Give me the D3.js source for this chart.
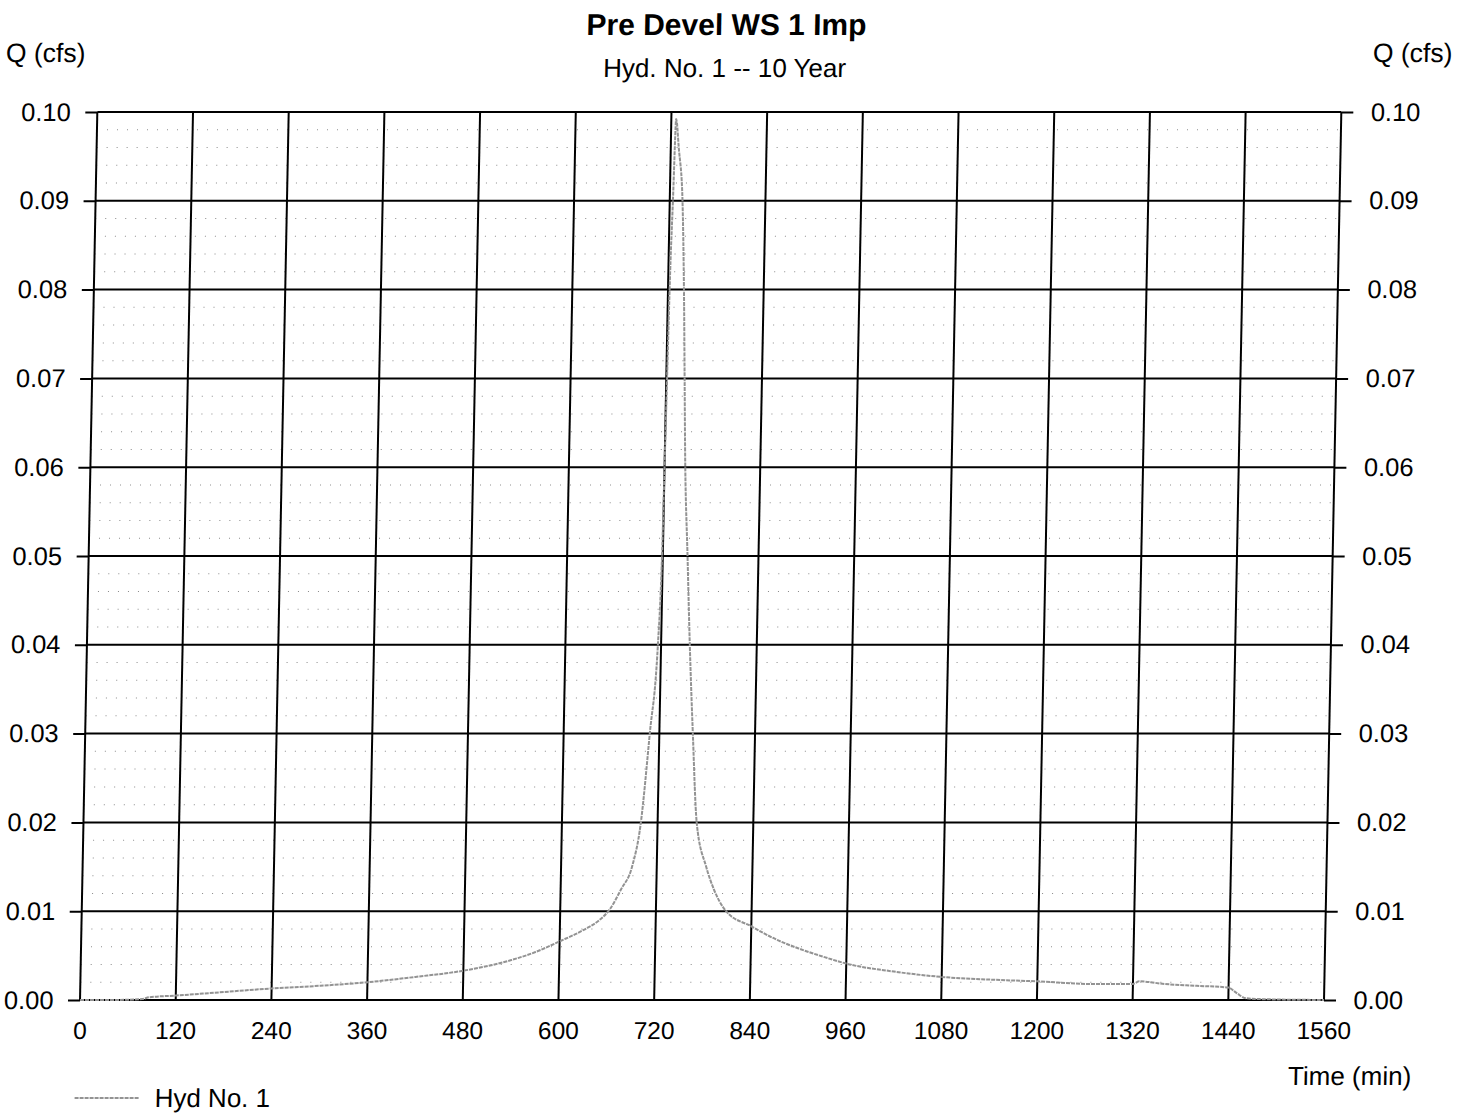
<!DOCTYPE html>
<html>
<head>
<meta charset="utf-8">
<script src="https://cdn.jsdelivr.net/npm/d3@7"></script>
<style>
  html, body { margin: 0; padding: 0; background: #fff; }
  svg { display: block; }
  text { font-family: "Liberation Sans", Arial, sans-serif; fill: #000; }
</style>
</head>
<body>
<svg id="chart" width="1468" height="1113"></svg>
<script>
// ---- data ----
const timeMin = [0, 40, 78, 86, 120, 180, 240, 300, 360, 420, 480, 540, 570, 600, 630, 648, 662, 676, 689, 699,
  708, 716, 719, 720, 721, 722, 724, 726, 730, 736, 740, 743, 746, 751, 756, 762, 769, 782, 792, 808,
  840, 872, 900, 930, 960, 1020, 1080, 1140, 1200, 1270, 1320, 1328, 1360, 1400, 1440, 1450, 1462, 1480, 1560];
const flowCfs = [0.0000, 0.0000, 0.0001, 0.0003, 0.0005, 0.0009, 0.0013, 0.0016, 0.0020, 0.0026, 0.0033, 0.0045, 0.0054, 0.0066, 0.0079, 0.0089, 0.0102, 0.0125, 0.0150, 0.0200,
  0.0300, 0.0400, 0.0500, 0.0600, 0.0700, 0.0800, 0.0900, 0.0992, 0.0960, 0.0900, 0.0800, 0.0700, 0.0600, 0.0500, 0.0400, 0.0300, 0.0200, 0.0150, 0.0125, 0.0100,
  0.0083, 0.0068, 0.0058, 0.0049, 0.0041, 0.0032, 0.0026, 0.0023, 0.0021, 0.0018, 0.0018, 0.0021, 0.0018, 0.0016, 0.0014, 0.0008, 0.0002, 0.0001, 0.0000];
const xTickValues = [0, 120, 240, 360, 480, 600, 720, 840, 960, 1080, 1200, 1320, 1440, 1560];
const yTickValues = [0.00, 0.01, 0.02, 0.03, 0.04, 0.05, 0.06, 0.07, 0.08, 0.09, 0.10];
const titleText = "Pre Devel WS 1 Imp";
const subtitleText = "Hyd. No. 1 -- 10 Year";
const yAxisLabel = "Q (cfs)";
const xAxisLabel = "Time (min)";
const seriesName = "Hyd No. 1";

// ---- layout ----
const svg = d3.select("#chart");
const g = svg.append("g").attr("transform", "skewX(-1.117)");
const x = d3.scaleLinear().domain([0, 1560]).range([99.5, 1343.5]);
const y = d3.scaleLinear().domain([0, 0.1]).range([1000, 112]);
const lineColor = "#939393";

// minor horizontal dotted grid
const minor = d3.range(0, 0.1, 0.002).filter(v => Math.abs(Math.round(v * 100) - v * 100) > 1e-6);
g.append("g").selectAll("line").data(minor).join("line")
  .attr("x1", x(0)).attr("x2", x(1560))
  .attr("y1", d => y(d)).attr("y2", d => y(d))
  .attr("stroke", "#8a8a8a").attr("stroke-width", 1).attr("stroke-dasharray", "1,9");

// major vertical grid
g.append("g").selectAll("line").data(xTickValues).join("line")
  .attr("x1", d => x(d)).attr("x2", d => x(d))
  .attr("y1", y(0.1)).attr("y2", y(0))
  .attr("stroke", "#000").attr("stroke-width", 2);

// major horizontal grid
g.append("g").selectAll("line").data(yTickValues).join("line")
  .attr("x1", x(0)).attr("x2", x(1560))
  .attr("y1", d => y(d)).attr("y2", d => y(d))
  .attr("stroke", "#000").attr("stroke-width", 2);

// axes
const fmt = d3.format(".2f");
function styleAxis(size) {
  return sel => {
    sel.select(".domain").remove();
    sel.selectAll("line").attr("stroke", "#000").attr("stroke-width", 2);
    sel.selectAll("text").attr("font-size", size).attr("font-family", "Liberation Sans, Arial, sans-serif").attr("fill", "#000");
    sel.attr("font-family", null).attr("font-size", null);
  };
}
g.append("g").attr("transform", `translate(${x(0)},0)`)
  .call(d3.axisLeft(y).tickValues(yTickValues).tickFormat(fmt).tickSize(12).tickPadding(14.5))
  .call(styleAxis(25.5));
g.append("g").attr("transform", `translate(${x(1560)},0)`)
  .call(d3.axisRight(y).tickValues(yTickValues).tickFormat(fmt).tickSize(12).tickPadding(17.5))
  .call(styleAxis(25.5));
g.append("g").attr("transform", `translate(0,${y(0)})`)
  .call(d3.axisBottom(x).tickValues(xTickValues).tickFormat(d3.format("d")).tickSize(0).tickPadding(22))
  .call(styleAxis(24.5));

// series
const pts = timeMin.map((t, i) => [t, flowCfs[i]]);
g.append("path").datum(pts)
  .attr("fill", "none").attr("stroke", lineColor).attr("stroke-width", 2)
  .attr("stroke-dasharray", "4,1")
  .attr("d", d3.line().x(d => x(d[0])).y(d => y(d[1])).curve(d3.curveMonotoneX));

// titles
g.append("text").attr("x", 727).attr("y", 35).attr("text-anchor", "middle")
  .attr("font-size", 30).attr("font-weight", "bold").text(titleText);
g.append("text").attr("x", 726).attr("y", 77).attr("text-anchor", "middle")
  .attr("font-size", 26).text(subtitleText);
g.append("text").attr("x", 7).attr("y", 62).attr("font-size", 26.5).text(yAxisLabel);
g.append("text").attr("x", 1374).attr("y", 62).attr("font-size", 26.5).text(yAxisLabel);
g.append("text").attr("x", 1309).attr("y", 1085).attr("font-size", 26).text(xAxisLabel);

// legend
g.append("line").attr("x1", 96).attr("x2", 161).attr("y1", 1098).attr("y2", 1098)
  .attr("stroke", lineColor).attr("stroke-width", 2).attr("stroke-dasharray", "4,1");
g.append("text").attr("x", 176).attr("y", 1107).attr("font-size", 26).text(seriesName);
</script>
</body>
</html>
